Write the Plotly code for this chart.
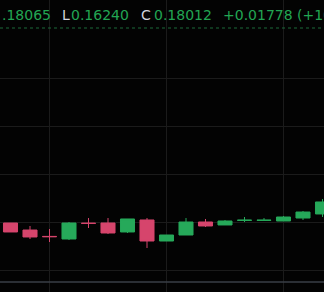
import plotly.graph_objects as go

# ---- data ----
idx = list(range(17))
opens  = [0.17979, 0.17833, 0.17700, 0.17646, 0.17975, 0.17979, 0.17792, 0.18042, 0.17604,
          0.17729, 0.18000, 0.17938, 0.18033, 0.18033, 0.18021, 0.18083, 0.18167]
highs  = [0.17979, 0.17917, 0.17854, 0.18000, 0.18083, 0.18083, 0.18063, 0.18083, 0.17729,
          0.18083, 0.18063, 0.18042, 0.18104, 0.18083, 0.18125, 0.18229, 0.18479]
lows   = [0.17792, 0.17646, 0.17583, 0.17625, 0.17875, 0.17750, 0.17771, 0.17458, 0.17604,
          0.17729, 0.17896, 0.17938, 0.18000, 0.18030, 0.18021, 0.18042, 0.18104]
closes = [0.17792, 0.17688, 0.17694, 0.17979, 0.17971, 0.17771, 0.18063, 0.17604, 0.17729,
          0.18000, 0.17917, 0.18021, 0.18038, 0.18038, 0.18104, 0.18208, 0.18417]

price_grid = [0.17, 0.18, 0.19, 0.20, 0.21]
time_grid = [2, 8, 14]

header_texts = [".18065", "L", "0.16240", "C", "0.18012", "+0.01778", "(+10.95%)"]
header_x =     [0, 60, 69, 139, 152, 221, 295]
header_colors = ["#22a653", "#d1d4dc", "#22a653", "#d1d4dc", "#22a653", "#22a653", "#22a653"]

GREEN = "#26a95a"
RED = "#d6456c"
W, H = 324, 292

fig = go.Figure(go.Candlestick(
    x=idx, open=opens, high=highs, low=lows, close=closes,
    increasing=dict(line=dict(color=GREEN, width=1), fillcolor=GREEN),
    decreasing=dict(line=dict(color=RED, width=1), fillcolor=RED),
    whiskerwidth=0, hoverinfo="skip",
))

# pixel mapping: candle i center at 10.5 + 19.5*i ; price 0.18 at y=222px, 0.01 per 48px
step = 19.5
x0 = -10.5 / step
x1 = (W - 10.5) / step
ppx = 0.01 / 48
y_top = 0.18 + 222 * ppx
y_bot = 0.18 - (H - 222) * ppx

fig.update_layout(
    width=W, height=H,
    margin=dict(l=0, r=0, t=0, b=0),
    paper_bgcolor="#030303", plot_bgcolor="#030303",
    showlegend=False, boxgap=0.28, boxgroupgap=0,
    xaxis=dict(range=[x0, x1], tickvals=time_grid, showticklabels=False,
               gridcolor="#1b1b1b", gridwidth=1, zeroline=False, showline=False,
               rangeslider=dict(visible=False), fixedrange=True),
    yaxis=dict(range=[y_bot, y_top], tickvals=price_grid, showticklabels=False,
               gridcolor="#1b1b1b", gridwidth=1, zeroline=False, showline=False,
               fixedrange=True),
)

# header dotted line and bottom separator
fig.add_shape(type="line", xref="paper", yref="paper", x0=0, x1=1,
              y0=1 - 28 / H, y1=1 - 28 / H, line=dict(color="#1d6a3a", width=1, dash="dot"))
fig.add_shape(type="line", xref="paper", yref="paper", x0=0, x1=1,
              y0=1 - 282 / H, y1=1 - 282 / H, line=dict(color="#3a3f47", width=1.5))

for t, xp, c in zip(header_texts, header_x, header_colors):
    fig.add_annotation(text=t, xref="paper", yref="paper", x=xp / W, y=1 - 14.5 / H,
                       xanchor="left", yanchor="middle", showarrow=False,
                       font=dict(family="DejaVu Sans", size=14, color=c))

fig.write_html("out.html")
